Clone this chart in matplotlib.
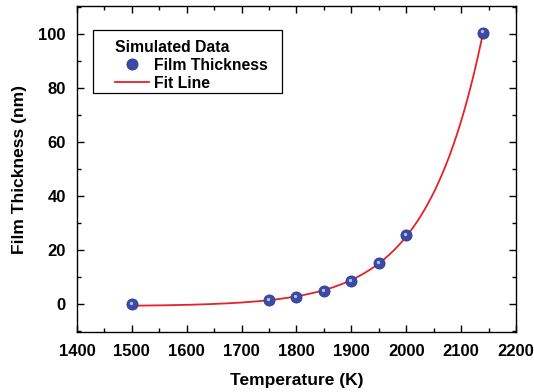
import numpy as np
import matplotlib
matplotlib.use("Agg")
import matplotlib.pyplot as plt
import matplotlib.transforms as mtransforms
from matplotlib.ticker import MultipleLocator
from matplotlib.patches import Rectangle

temperature = [1500, 1750, 1800, 1850, 1900, 1950, 2000, 2140]
thickness = [0.0, 1.3, 2.5, 4.8, 8.5, 15.0, 25.5, 100.5]

# exponential fit y = A + B*exp((x-1500)/t), t by grid search, A,B linear LSQ
x = np.array(temperature, float)
y = np.array(thickness, float)
best = None
for t in np.linspace(60, 200, 1401):
    M = np.column_stack([np.ones_like(x), np.exp((x - 1500) / t)])
    coef, res, *_ = np.linalg.lstsq(M, y, rcond=None)
    err = np.sum((M @ coef - y) ** 2)
    if best is None or err < best[0]:
        best = (err, t, coef)
_, t_fit, (A_fit, B_fit) = best
xf = np.linspace(1500, 2140, 400)
yf = A_fit + B_fit * np.exp((xf - 1500) / t_fit)

plt.rcParams['font.family'] = ['Liberation Sans', 'DejaVu Sans']
plt.rcParams['font.weight'] = 'bold'

W, H = 534, 392
fig = plt.figure(figsize=(W/100, H/100), dpi=100)
L, R, T, B = 77, 516, 6, 332
ax = fig.add_axes([L/W, 1 - B/H, (R-L)/W, (B-T)/H])

ln, = ax.plot(xf, yf, color='#e8202a', lw=1.3, zorder=2, label='Fit Line')
sc, = ax.plot(temperature, thickness, 'o', color='#3a4aa6', markersize=8,
              markeredgecolor='#2f3d93', markeredgewidth=0.6, zorder=3, label='Film Thickness')
off = mtransforms.offset_copy(ax.transData, fig=fig, x=-1.3, y=1.3, units='dots')
ax.plot(temperature, thickness, 'o', color='#d0d4f2', markersize=2.4,
        markeredgewidth=0, zorder=4, alpha=0.85, transform=off)

ax.set_xlim(1400, 2200)
ax.set_ylim(-10.4, 110.4)
ax.xaxis.set_major_locator(MultipleLocator(100))
ax.xaxis.set_minor_locator(MultipleLocator(50))
ax.yaxis.set_major_locator(MultipleLocator(20))
ax.yaxis.set_minor_locator(MultipleLocator(10))
ax.tick_params(which='both', direction='in', top=True, right=True, labelsize=12, width=1)
ax.tick_params(which='major', length=5)
ax.tick_params(which='minor', length=3)
ax.tick_params(axis='x', which='major', pad=9)
ax.tick_params(axis='y', which='major', pad=8)
for lab in ax.get_xticklabels() + ax.get_yticklabels():
    lab.set_fontweight('bold')
for s in ax.spines.values():
    s.set_linewidth(1)

ax.set_xlabel('Temperature (K)', fontsize=12.5, fontweight='bold', labelpad=10)
ax.set_ylabel('Film Thickness (nm)', fontsize=12.5, fontweight='bold', labelpad=8)

# legend box (frame drawn manually to match padding)
def ax_xy(px, py):
    return (px - L) / (R - L), 1 - (py - T) / (B - T)

x0, y1 = ax_xy(93, 30)
x1, y0 = ax_xy(282, 93)
ax.add_patch(Rectangle((x0, y0), x1 - x0, y1 - y0, transform=ax.transAxes,
                       facecolor='white', edgecolor='black', lw=0.9, zorder=5))

lx, ly = ax_xy(115 - 5, 35)
leg = ax.legend(handles=[sc, ln], title='Simulated Data', loc='upper left',
                bbox_to_anchor=(lx, ly), frameon=False,
                fontsize=11.3, title_fontproperties={'weight': 'bold', 'size': 11.3},
                borderaxespad=0, borderpad=0.3, handlelength=2.2, handletextpad=0.3,
                labelspacing=0.2)
leg._legend_box.align = 'left'
leg.set_zorder(6)
for txt in leg.get_texts():
    txt.set_fontweight('bold')

fig.savefig('out.png', dpi=100)
